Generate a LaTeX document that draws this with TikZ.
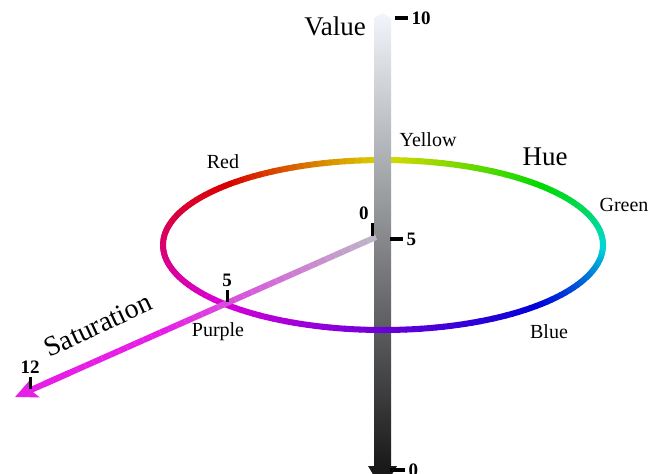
\documentclass[tikz,border=0pt]{standalone}
\usepackage{fontspec}
\setmainfont{Liberation Serif}
\usepackage{xcolor}
\usetikzlibrary{calc,arrows.meta}

\definecolor{barTop}{RGB}{242,246,252}
\definecolor{barMid}{RGB}{190,192,196}
\definecolor{barBot}{RGB}{25,25,25}
\definecolor{satStart}{RGB}{190,184,198}
\definecolor{satEnd}{RGB}{230,30,230}

\tikzset{
  axislabel/.style={font=\fontsize{13.5}{16}\selectfont},
  hueword/.style={font=\fontsize{10}{12}\selectfont},
  numlabel/.style={font=\fontsize{9.5}{11}\selectfont\bfseries, inner sep=1pt},
  tickmark/.style={line width=1.7pt},
  ring/.style={line width=3pt, line cap=round},
}

\begin{document}
\begin{tikzpicture}[x=0.5pt,y=-0.5pt]
\useasboundingbox (0,0) rectangle (663,473);
\fill[white] (0,0) rectangle (663,473);
\clip (0,0) rectangle (663,473);

% back half of the hue ring
\foreach \t in {0,2,...,178}{
  \pgfmathsetmacro{\ph}{mod(135-(\t+1)+720,360)}
  \pgfmathsetmacro{\hu}{(\ph<180.5) ? (\ph*4/3) : (240+(\ph-180)*2/3)}
  \pgfmathsetmacro{\hh}{mod(\hu,360)/360}
  \definecolor{huecol}{hsb}{\hh,1,0.85}
  \draw[ring, huecol] ({383+220*cos(\t)},{245-85*sin(\t)}) -- ({383+220*cos(\t+2)},{245-85*sin(\t+2)});
}

% value bar
\shade[top color=barTop, middle color=barMid, bottom color=barBot]
  (374,18) -- (382.5,13) -- (391,18) -- (391,467) -- (374,467) -- cycle;
\fill[barBot] (368,466) -- (397,466) -- (382.5,490) -- cycle;

% front half of the hue ring
\foreach \t in {180,182,...,358}{
  \pgfmathsetmacro{\ph}{mod(135-(\t+1)+720,360)}
  \pgfmathsetmacro{\hu}{(\ph<180.5) ? (\ph*4/3) : (240+(\ph-180)*2/3)}
  \pgfmathsetmacro{\hh}{mod(\hu,360)/360}
  \definecolor{huecol}{hsb}{\hh,1,0.85}
  \draw[ring, huecol] ({383+220*cos(\t)},{245-85*sin(\t)}) -- ({383+220*cos(\t+2)},{245-85*sin(\t+2)});
}

% value ticks
\draw[tickmark] (395,18) -- (408,18) node[numlabel, right] (v10) {10};
\draw[tickmark] (390,239) -- (403,239) node[numlabel, right] (v5) {5};
\draw[tickmark] (390,470) -- (405,470) node[numlabel, right] (v0) {0};

% saturation axis
\coordinate (satO) at (376,237);
\coordinate (satT) at (15,397);
\foreach \i in {0,...,39}{
  \pgfmathsetmacro{\fa}{\i/40*0.92}
  \pgfmathsetmacro{\fb}{(\i+1)/40*0.92}
  \pgfmathsetmacro{\pc}{min(100,(\i+0.5)/40*0.92*170)}
  \colorlet{satcol}{satEnd!\pc!satStart}
  \draw[satcol, line width=3pt] ($(satO)!\fa!(satT)$) -- ($(satO)!\fb!(satT)$);
}
\draw[satEnd, line width=3pt, -{Stealth[length=11pt,width=10pt,inset=2.5pt]}]
  ($(satO)!0.85!(satT)$) -- (satT);

% saturation ticks
\draw[tickmark, line width=1.5pt] (372,236) -- (372,223) node[numlabel, above left] (s0) {0};
\draw[tickmark, line width=1.5pt] (227,302) -- (227,290) node[numlabel, above] (s5) {5};
\draw[tickmark, line width=1.5pt] (30,389) -- (30,377) node[numlabel, above] (s12) {12};

% labels
\node[axislabel] (value) at (335,26) {Value};
\node[axislabel] (hue) at (545,157) {Hue};
\node[axislabel, font=\fontsize{14}{16}\selectfont, rotate=25] (satlabel) at (98,325) {Saturation};
\node[hueword] (yellow) at (428,140) {Yellow};
\node[hueword] (red) at (223,162) {Red};
\node[hueword] (green) at (624,205) {Green};
\node[hueword] (blue) at (549,332) {Blue};
\node[hueword] (purple) at (218,332) {Purple};
\end{tikzpicture}
\end{document}
